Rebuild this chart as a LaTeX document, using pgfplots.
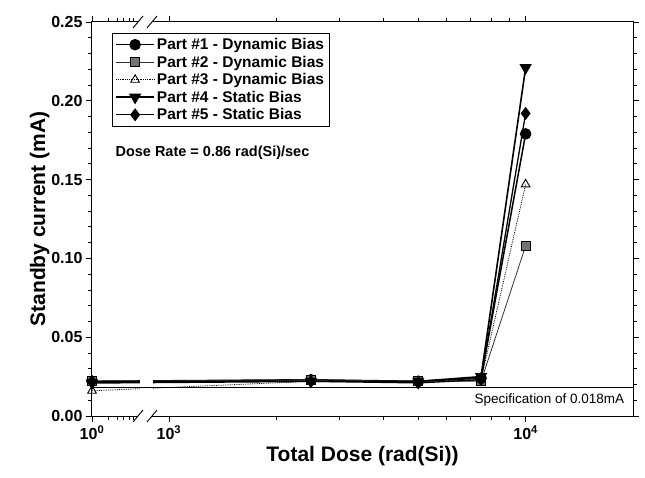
\documentclass[border=0pt]{standalone}
\usepackage{fontspec}
\setmainfont{Liberation Sans}
\usepackage{pgfplots}
\pgfplotsset{compat=1.18}
\usetikzlibrary{calc}

% broken dose axis: 10^0 .. ~7 compressed on the left, log decades 10^3..2x10^4 on the right
\newcommand{\dosetrafo}[1]{%
  \begingroup
  \pgfkeys{/pgf/fpu=true,/pgf/fpu/output format=fixed}%
  \pgfmathparse{ifthenelse(#1<100,53*ln(#1)/ln(10),77+357*(ln(#1)/ln(10)-3))}%
  \xdef\dosetrafores{\pgfmathresult}%
  \endgroup
  \let\pgfmathresult\dosetrafores}

\begin{document}
\begin{tikzpicture}
\useasboundingbox (-92pt,-61pt) rectangle (553pt,416pt);
\begin{axis}[
    name=ax, at={(0pt,0pt)}, anchor=south west,
    scale only axis, width=541pt, height=394pt,
    x coord trafo/.code={\dosetrafo{#1}},
    xmin=1, xmax=20000, ymin=0, ymax=0.25,
    xtick={1,1000,10000},
    xticklabels={10\textsuperscript{0},10\textsuperscript{3},10\textsuperscript{4}},
    minor xtick={2,3,4,5,6,2000,3000,4000,5000,6000,7000,8000,9000},
    ytick={0,0.05,0.1,0.15,0.2,0.25},
    yticklabels={0.00,0.05,0.10,0.15,0.20,0.25},
    minor ytick={0.01,0.02,0.03,0.04,0.06,0.07,0.08,0.09,0.11,0.12,0.13,0.14,0.16,0.17,0.18,0.19,0.21,0.22,0.23,0.24},
    tick align=outside,
    major tick length=6pt, minor tick length=3.5pt,
    every tick/.style={black, line width=0.8pt},
    tick label style={font=\fontsize{16}{16}\selectfont\bfseries},
    xlabel={Total Dose (rad(Si))},
    ylabel={Standby current (mA)},
    ylabel style={yshift=-5pt},
    label style={font=\fontsize{21}{21}\selectfont\bfseries},
    axis line style={line width=1pt},
    legend style={at={(0.037,0.972)}, anchor=north west, draw=black, line width=0.6pt,
        font=\fontsize{15.5}{15.5}\selectfont\bfseries, row sep=0.8pt,
        inner xsep=3pt, inner ysep=3pt},
    legend cell align=left,
    legend image code/.code={\draw[mark repeat=2,mark phase=2,#1] plot coordinates {(0pt,0pt) (19pt,0pt) (38pt,0pt)};},
]
% Part #1 - dynamic bias
\addplot[black, line width=1.5pt, mark=*, mark size=5pt]
coordinates {(1,0.022) (2500,0.023) (5000,0.022) (7500,0.024) (10000,0.179)};
\addlegendentry{Part \#1 - Dynamic Bias}
% Part #2 - dynamic bias
\addplot[black!80, line width=0.8pt, mark=square*, mark size=4.5pt, mark options={fill=black!55, draw=black}]
coordinates {(1,0.022) (2500,0.023) (5000,0.022) (7500,0.022) (10000,0.108)};
\addlegendentry{Part \#2 - Dynamic Bias}
% Part #3 - dynamic bias
\addplot[black, densely dotted, line width=0.8pt, mark=triangle, mark size=5pt, mark options={solid, fill=white, line width=0.9pt}]
coordinates {(1,0.016) (2500,0.022) (5000,0.022) (7500,0.023) (10000,0.147)};
\addlegendentry{Part \#3 - Dynamic Bias}
% Part #4 - static bias
\addplot[black, line width=1.6pt, mark=triangle*, mark size=5.5pt, mark options={rotate=180}]
coordinates {(1,0.021) (2500,0.022) (5000,0.022) (7500,0.025) (10000,0.221)};
\addlegendentry{Part \#4 - Static Bias}
% Part #5 - static bias
\addplot[black, line width=1.3pt, mark=diamond*, mark size=5.5pt]
coordinates {(1,0.022) (2500,0.022) (5000,0.021) (7500,0.023) (10000,0.192)};
\addlegendentry{Part \#5 - Static Bias}
% gap in the data lines at the axis break
\fill[white] (rel axis cs:0.089,0.05) rectangle (rel axis cs:0.113,0.118);
% specification limit
\addplot[black, line width=0.8pt, forget plot] coordinates {(1,0.018) (20000,0.018)};
\node[anchor=west, font=\fontsize{14.5}{14.5}\selectfont\bfseries] at (rel axis cs:0.037,0.667) {Dose Rate = 0.86 rad(Si)/sec};
\node[anchor=east, font=\fontsize{13.5}{13.5}\selectfont] at (rel axis cs:0.99,0.041) {Specification of 0.018mA};
\end{axis}
% axis break marks, bottom and top
\foreach \yy in {0pt,394pt} {
  \fill[white] ($(ax.south west)+(46pt,\yy-2.5pt)$) rectangle +(14pt,5pt);
  \draw[line width=0.9pt] ($(ax.south west)+(41pt,\yy-6pt)$) -- +(10pt,12pt);
  \draw[line width=0.9pt] ($(ax.south west)+(55pt,\yy-6pt)$) -- +(10pt,12pt);
}
\end{tikzpicture}
\end{document}
